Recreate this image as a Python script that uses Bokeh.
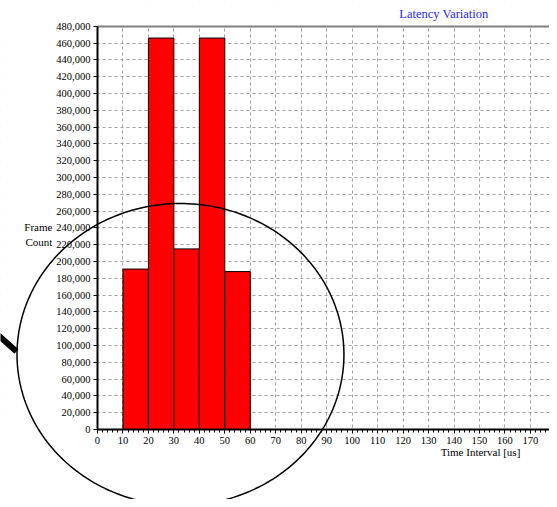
import numpy as np
from bokeh.plotting import figure
from bokeh.models import (Label, PolyAnnotation, Arrow, NumeralTickFormatter,
                          FixedTicker, ColumnDataSource, BoxAnnotation, LinearAxis)
from bokeh.embed import file_html
from bokeh.resources import INLINE

# ---- data ----
bin_start = [10, 20, 30, 40, 50]
bin_width = 10
frame_count = [191000, 466000, 215000, 466000, 188000]
x_ticks = list(range(0, 180, 10))
x_minor = list(range(0, 178, 2))
y_ticks = list(range(0, 480001, 20000))
x_max = 177.5
y_max = 480000

title_text = "Latency Variation"
x_label = "Time Interval [us]"
y_label = "Frame\nCount"

SERIF = "Liberation Serif"

src = ColumnDataSource(dict(
    x=[s + bin_width / 2 for s in bin_start],
    top=frame_count,
))

# frame covers the whole canvas; axes are pinned at the data origin
p = figure(width=549, height=499, x_range=(-38.08, x_max), y_range=(-83333, 510714),
           output_backend="svg", toolbar_location=None,
           min_border_left=0, min_border_right=0, min_border_top=0, min_border_bottom=0)

p.background_fill_color = "white"
p.border_fill_color = "white"
p.outline_line_color = None

# grid
for g in (p.xgrid, p.ygrid):
    g.grid_line_color = "#a0a0a0"
    g.grid_line_dash = "3 3"
    g.grid_line_width = 1
p.xgrid.ticker = FixedTicker(ticks=x_ticks)
p.ygrid.ticker = FixedTicker(ticks=y_ticks)

# white masks that keep the grid inside the plot area
for kw in (dict(left=-100, right=0, bottom=-300000, top=700000),
           dict(left=-100, right=300, bottom=-300000, top=0),
           dict(left=-100, right=300, bottom=y_max, top=700000)):
    p.add_layout(BoxAnnotation(fill_color="white", fill_alpha=1, line_color=None,
                               level="underlay", **kw))

p.vbar(x="x", top="top", width=bin_width, bottom=0, source=src,
       fill_color="#ff0000", line_color="black", line_width=1)

# axes
p.xaxis.ticker = FixedTicker(ticks=x_ticks, minor_ticks=x_minor)
p.yaxis.ticker = FixedTicker(ticks=y_ticks)
p.yaxis.formatter = NumeralTickFormatter(format="0,0")
p.xaxis.fixed_location = 0
p.yaxis.fixed_location = 0
p.xaxis.bounds = (0, x_max)
p.yaxis.bounds = (0, y_max)
for ax in (p.xaxis, p.yaxis):
    ax.axis_line_width = 2
    ax.axis_line_color = "black"
    ax.major_tick_line_color = "black"
    ax.major_tick_in = 0
    ax.major_tick_out = 4
    ax.major_label_text_font = SERIF
    ax.major_label_text_font_size = "10.5px"
    ax.major_label_text_color = "black"
    ax.major_label_standoff = 3
p.xaxis.minor_tick_line_color = "black"
p.xaxis.minor_tick_in = 0
p.xaxis.minor_tick_out = 3
p.yaxis.minor_tick_line_color = None

# top border of the plot area
top_axis = LinearAxis(fixed_location=y_max, bounds=(0, x_max),
                      axis_line_color="#808080", axis_line_width=2,
                      major_tick_line_color=None, minor_tick_line_color=None,
                      major_label_text_color=None)
p.add_layout(top_axis, "above")

# texts
p.add_layout(Label(x=136.05, y=495000, text=title_text, text_font=SERIF,
                   text_font_size="12.5px", text_color="#1f1fff",
                   text_align="center", text_baseline="middle"))
p.add_layout(Label(x=-17.7, y=232000, text=y_label, text_font=SERIF,
                   text_font_size="11px", text_color="black",
                   text_align="right", text_baseline="middle",
                   text_line_height=1.2))
p.add_layout(Label(x=150.4, y=-26200, text=x_label, text_font=SERIF,
                   text_font_size="11px", text_color="black",
                   text_align="center", text_baseline="middle"))

# magnifier decoration
cx, cy, rx, ry = 32.59, 89286, 64.19, 179762
t = np.linspace(0, 2 * np.pi, 240)
p.add_layout(PolyAnnotation(xs=list(cx + rx * np.cos(t)), ys=list(cy + ry * np.sin(t)),
                            fill_alpha=0, line_color="black", line_alpha=1.0,
                            line_width=1.5))
p.add_layout(Arrow(end=None, x_start=-39.3, y_start=113100, x_end=-31.8,
                   y_end=92860, line_color="black", line_width=6))

open("out.html", "w").write(file_html(p, INLINE))
